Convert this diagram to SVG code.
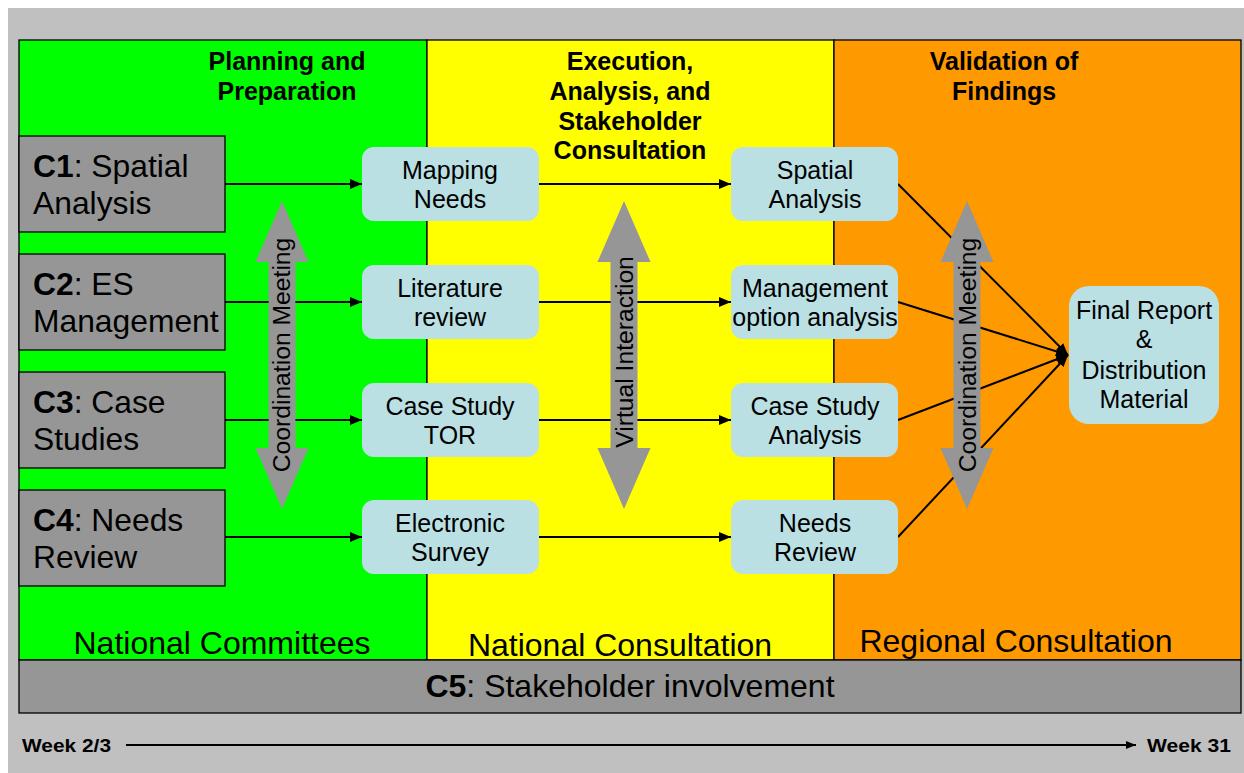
<svg xmlns="http://www.w3.org/2000/svg" width="1244" height="773" viewBox="0 0 1244 773">
<style>
text{font-family:"Liberation Sans",Arial,sans-serif;fill:#000}
.hdr{font-size:25px;font-weight:bold;text-anchor:middle}
.cbox{fill:#969696;stroke:#000;stroke-width:1.3}
.ctxt{font-size:31.8px}
.node{fill:#bae0e4}
.ntxt{font-size:25px;text-anchor:middle}
.conn{stroke:#000;stroke-width:2;fill:none}
.dbl{fill:#969696}
.vtxt{font-size:24.7px;text-anchor:middle}
.foot{font-size:32px;text-anchor:middle}
.week{font-size:19px;font-weight:bold}
</style>
<defs>
<marker id="ah" markerUnits="userSpaceOnUse" markerWidth="12" markerHeight="10" refX="12" refY="5" orient="auto">
<path d="M0,0 L12,5 L0,10 Z" fill="#000"/>
</marker>
<marker id="ahs" markerUnits="userSpaceOnUse" markerWidth="10" markerHeight="8" refX="10" refY="4" orient="auto">
<path d="M0,0 L10,4 L0,8 Z" fill="#000"/>
</marker>
</defs>
<rect x="8" y="8" width="1236" height="765" fill="#c0c0c0"/>
<g id="columns">
<rect x="19" y="40" width="408" height="620" fill="#00ff00" stroke="#000" stroke-width="1.3"/>
<rect x="427" y="40" width="407" height="620" fill="#ffff00" stroke="#000" stroke-width="1.3"/>
<rect x="834" y="40" width="407" height="620" fill="#ff9900" stroke="#000" stroke-width="1.3"/>
<text class="hdr" x="287" y="70">Planning and</text>
<text class="hdr" x="287" y="100">Preparation</text>
<text class="hdr" x="630" y="70">Execution,</text>
<text class="hdr" x="630" y="100">Analysis, and</text>
<text class="hdr" x="630" y="130">Stakeholder</text>
<text class="hdr" x="630" y="159">Consultation</text>
<text class="hdr" x="1004" y="70">Validation of</text>
<text class="hdr" x="1004" y="100">Findings</text>
<text class="foot" x="222" y="654">National Committees</text>
<text class="foot" x="620" y="656">National Consultation</text>
<text class="foot" x="1016" y="652">Regional Consultation</text>
</g>
<g id="c5">
<rect x="19" y="660" width="1222" height="53" fill="#969696" stroke="#000" stroke-width="1.3"/>
<text class="foot" x="630" y="697"><tspan font-weight="bold">C5</tspan>: Stakeholder involvement</text>
</g>
<g id="connectors">
<line class="conn" x1="225" y1="184" x2="362" y2="184" marker-end="url(#ah)"/>
<line class="conn" x1="225" y1="302" x2="362" y2="302" marker-end="url(#ah)"/>
<line class="conn" x1="225" y1="420" x2="362" y2="420" marker-end="url(#ah)"/>
<line class="conn" x1="225" y1="537" x2="362" y2="537" marker-end="url(#ah)"/>
<line class="conn" x1="539" y1="184" x2="731" y2="184" marker-end="url(#ah)"/>
<line class="conn" x1="539" y1="302" x2="731" y2="302" marker-end="url(#ah)"/>
<line class="conn" x1="539" y1="420" x2="731" y2="420" marker-end="url(#ah)"/>
<line class="conn" x1="539" y1="537" x2="731" y2="537" marker-end="url(#ah)"/>
<line class="conn" x1="898" y1="184" x2="1068" y2="355" marker-end="url(#ah)"/>
<line class="conn" x1="898" y1="302" x2="1068" y2="355" marker-end="url(#ah)"/>
<line class="conn" x1="898" y1="420" x2="1068" y2="355" marker-end="url(#ah)"/>
<line class="conn" x1="898" y1="537" x2="1068" y2="355" marker-end="url(#ah)"/>
<line class="conn" x1="126" y1="745" x2="1136" y2="745" stroke-width="1.5" marker-end="url(#ahs)"/>
</g>
<g id="coord-left">
<path class="dbl" d="M282,201 L308.5,262 L295.5,262 L295.5,448 L308.5,448 L282,509 L255.5,448 L268.5,448 L268.5,262 L255.5,262 Z"/>
<text class="vtxt" transform="translate(290,355) rotate(-90)">Coordination Meeting</text>
</g>
<g id="virtual">
<path class="dbl" d="M624,201 L650.5,262 L637.5,262 L637.5,448 L650.5,448 L624,509 L597.5,448 L610.5,448 L610.5,262 L597.5,262 Z"/>
<text class="vtxt" transform="translate(633,352) rotate(-90)">Virtual Interaction</text>
</g>
<g id="coord-right">
<path class="dbl" d="M967,201 L993.5,262 L980.5,262 L980.5,448 L993.5,448 L967,509 L940.5,448 L953.5,448 L953.5,262 L940.5,262 Z"/>
<text class="vtxt" transform="translate(976,355) rotate(-90)">Coordination Meeting</text>
</g>
<g id="c1"><rect class="cbox" x="19" y="136" width="206" height="96"/><text class="ctxt" x="33" y="177"><tspan font-weight="bold">C1</tspan>: Spatial</text><text class="ctxt" x="33" y="214">Analysis</text></g>
<g id="c2"><rect class="cbox" x="19" y="254" width="206" height="96"/><text class="ctxt" x="33" y="295"><tspan font-weight="bold">C2</tspan>: ES</text><text class="ctxt" x="33" y="332">Management</text></g>
<g id="c3"><rect class="cbox" x="19" y="372" width="206" height="96"/><text class="ctxt" x="33" y="413"><tspan font-weight="bold">C3</tspan>: Case</text><text class="ctxt" x="33" y="450">Studies</text></g>
<g id="c4"><rect class="cbox" x="19" y="490" width="206" height="96"/><text class="ctxt" x="33" y="531"><tspan font-weight="bold">C4</tspan>: Needs</text><text class="ctxt" x="33" y="568">Review</text></g>
<g id="mapping"><rect class="node" x="362" y="147" width="177" height="74" rx="12"/><text class="ntxt" x="450" y="179">Mapping</text><text class="ntxt" x="450" y="208">Needs</text></g>
<g id="literature"><rect class="node" x="362" y="265" width="177" height="74" rx="12"/><text class="ntxt" x="450" y="297">Literature</text><text class="ntxt" x="450" y="326">review</text></g>
<g id="tor"><rect class="node" x="362" y="383" width="177" height="74" rx="12"/><text class="ntxt" x="450" y="415">Case Study</text><text class="ntxt" x="450" y="444">TOR</text></g>
<g id="survey"><rect class="node" x="362" y="500" width="177" height="74" rx="12"/><text class="ntxt" x="450" y="532">Electronic</text><text class="ntxt" x="450" y="561">Survey</text></g>
<g id="spatial"><rect class="node" x="731" y="147" width="167" height="74" rx="12"/><text class="ntxt" x="815" y="179">Spatial</text><text class="ntxt" x="815" y="208">Analysis</text></g>
<g id="mgmt"><rect class="node" x="731" y="265" width="167" height="74" rx="12"/><text class="ntxt" x="815" y="297">Management</text><text class="ntxt" x="815" y="326">option analysis</text></g>
<g id="csa"><rect class="node" x="731" y="383" width="167" height="74" rx="12"/><text class="ntxt" x="815" y="415">Case Study</text><text class="ntxt" x="815" y="444">Analysis</text></g>
<g id="needs"><rect class="node" x="731" y="500" width="167" height="74" rx="12"/><text class="ntxt" x="815" y="532">Needs</text><text class="ntxt" x="815" y="561">Review</text></g>
<g id="final"><rect class="node" x="1069" y="286" width="150" height="138" rx="20"/><text class="ntxt" x="1144" y="319">Final Report</text><text class="ntxt" x="1144" y="348">&amp;</text><text class="ntxt" x="1144" y="379">Distribution</text><text class="ntxt" x="1144" y="408">Material</text></g>
<g id="timeline">
<text class="week" x="22" y="752" textLength="89" lengthAdjust="spacingAndGlyphs">Week 2/3</text>
<text class="week" x="1147" y="752" textLength="84" lengthAdjust="spacingAndGlyphs">Week 31</text>
</g>
</svg>
